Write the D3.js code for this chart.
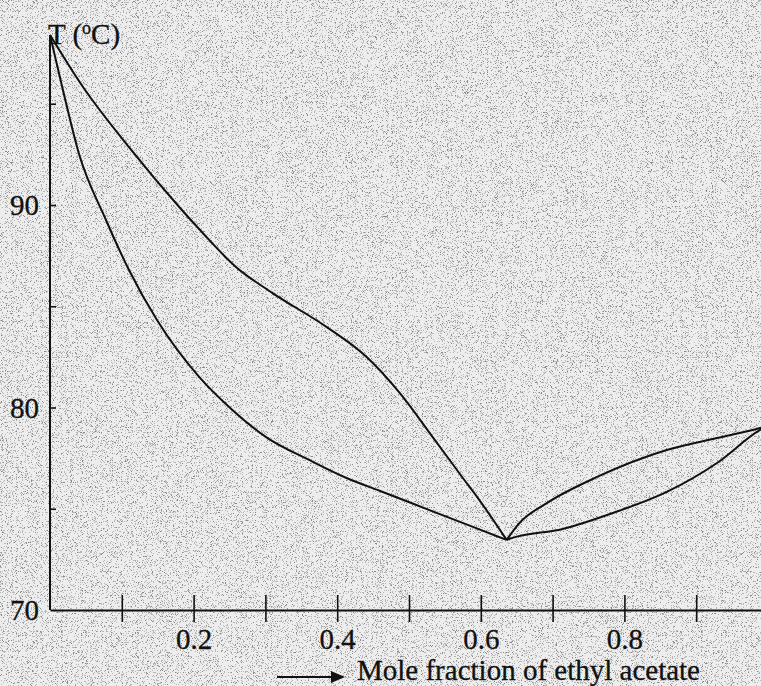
<!DOCTYPE html>
<html>
<head>
<meta charset="utf-8">
<script src="https://cdn.jsdelivr.net/npm/d3@7.9.0/dist/d3.min.js"></script>
<style>
  html, body { margin: 0; padding: 0; background: #e4e4e4; }
  svg { display: block; }
  text { font-family: "Liberation Serif", "Times New Roman", serif; fill: #111; }
</style>
</head>
<body>
<svg id="chart" width="761" height="686"></svg>
<script>
// mole fraction of ethyl acetate vs temperature (°C)
const dewLeft = [[0, 98.4], [0.046, 95.83], [0.110, 92.86], [0.180, 89.90], [0.208, 88.8],
  [0.259, 86.94], [0.310, 85.65], [0.385, 83.98], [0.441, 82.49], [0.487, 80.72],
  [0.533, 78.54], [0.575, 76.52], [0.598, 75.43], [0.636, 73.46]];
const bubbleLeft = [[0, 98.4], [0.017, 95.83], [0.040, 92.57], [0.078, 89.26], [0.110, 86.79],
  [0.149, 84.32], [0.208, 81.5], [0.254, 79.88], [0.301, 78.54], [0.361, 77.41],
  [0.413, 76.52], [0.459, 75.89], [0.505, 75.26], [0.552, 74.61], [0.598, 73.98], [0.636, 73.46]];
const dewRight = [[0.636, 73.46], [0.654, 74.30], [0.692, 75.28], [0.762, 76.57],
  [0.859, 77.90], [0.929, 78.49], [0.989, 78.99], [1.0, 79.1]];
const bubbleRight = [[0.636, 73.46], [0.644, 73.56], [0.714, 74.0], [0.784, 74.79],
  [0.859, 75.83], [0.929, 77.26], [0.989, 78.89], [1.0, 79.1]];

const xTickValues = [0.1, 0.2, 0.3, 0.4, 0.5, 0.6, 0.7, 0.8, 0.9];
const xLabelled = [0.2, 0.4, 0.6, 0.8];
const yTickValues = [75, 80, 85, 90, 95];
const yLabelled = [70, 80, 90];
const axisTop = 98.4;

const svg = d3.select('#chart');

// scanned-paper grain
const defs = svg.append('defs');
const grain = defs.append('filter').attr('id', 'grain')
  .attr('x', 0).attr('y', 0).attr('width', '100%').attr('height', '100%');
grain.append('feTurbulence').attr('type', 'fractalNoise')
  .attr('baseFrequency', 1.2).attr('numOctaves', 2).attr('seed', 7);
grain.append('feColorMatrix').attr('type', 'matrix')
  .attr('values', '0 0 0 0 0  0 0 0 0 0  0 0 0 0 0  1 0 0 0 0');
grain.append('feComponentTransfer').append('feFuncA')
  .attr('type', 'discrete').attr('tableValues', '0 0 0 0 0 0 0.55 1 1 1');

svg.append('rect').attr('width', 761).attr('height', 686).attr('fill', '#ededed');
svg.append('rect').attr('width', 761).attr('height', 686).attr('fill', '#777')
  .attr('filter', 'url(#grain)').attr('opacity', 0.42);

const x = d3.scaleLinear().domain([0, 1]).range([50, 768]);
const y = d3.scaleLinear().domain([70, 100]).range([610, 2.5]);

// x axis: ticks cross the line
const gx = svg.append('g').attr('transform', `translate(0,${y(70)})`)
  .call(d3.axisBottom(x).tickValues(xTickValues).tickSizeInner(12).tickSizeOuter(0)
    .tickFormat(d => xLabelled.includes(d) ? d3.format('.1f')(d) : ''));
gx.select('.domain').attr('stroke', '#111').attr('stroke-width', 2);
gx.selectAll('.tick line').attr('y1', -15).attr('stroke', '#111').attr('stroke-width', 1.6);
gx.selectAll('.tick text').attr('y', 39).attr('dy', 0).attr('font-size', 29)
  .attr('font-family', '"Liberation Serif", serif').attr('fill', '#111')
  .attr('stroke', '#111').attr('stroke-width', 0.3);

// y axis: short ticks to the right
const gy = svg.append('g').attr('transform', `translate(${x(0)},0)`)
  .call(d3.axisRight(y).tickValues(yTickValues).tickSizeInner(6).tickSizeOuter(0).tickFormat(''));
gy.select('.domain').remove();
gy.selectAll('.tick line').attr('stroke', '#111').attr('stroke-width', 1.6);
svg.append('line')
  .attr('x1', x(0)).attr('x2', x(0)).attr('y1', y(70)).attr('y2', y(axisTop))
  .attr('stroke', '#111').attr('stroke-width', 2);

svg.append('g').selectAll('text').data(yLabelled).join('text')
  .attr('x', 39).attr('y', d => y(d)).attr('dy', '0.35em')
  .attr('text-anchor', 'end').attr('font-size', 29)
  .attr('stroke', '#111').attr('stroke-width', 0.3)
  .text(d => d);

// curves
const line = d3.line().x(d => x(d[0])).y(d => y(d[1])).curve(d3.curveMonotoneX);
svg.append('g').selectAll('path').data([dewLeft, bubbleLeft, dewRight, bubbleRight]).join('path')
  .attr('d', line).attr('fill', 'none').attr('stroke', '#111').attr('stroke-width', 2);

// axis titles
const tLabel = svg.append('text').attr('x', 48).attr('y', 44).attr('font-size', 29)
  .attr('stroke', '#111').attr('stroke-width', 0.3);
tLabel.append('tspan').text('T (');
tLabel.append('tspan').attr('font-size', 18).attr('dy', -10).text('o');
tLabel.append('tspan').attr('dy', 10).text('C)');

svg.append('line').attr('x1', 277).attr('x2', 333).attr('y1', 677).attr('y2', 677)
  .attr('stroke', '#111').attr('stroke-width', 2);
svg.append('path').attr('d', 'M331,671 L345,677 L331,683 Z').attr('fill', '#111');
svg.append('text').attr('x', 357).attr('y', 680).attr('font-size', 29)
  .attr('textLength', 343).attr('lengthAdjust', 'spacingAndGlyphs')
  .attr('stroke', '#111').attr('stroke-width', 0.3)
  .text('Mole fraction of ethyl acetate');
</script>
</body>
</html>
